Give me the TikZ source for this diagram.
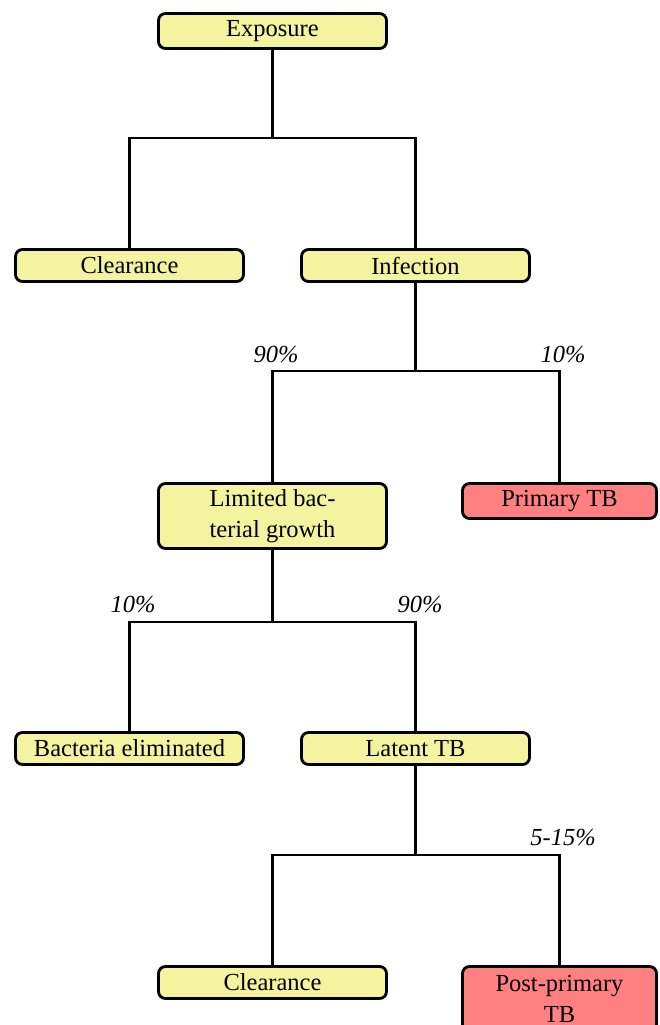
\documentclass[tikz,border=0pt]{standalone}
\usepackage{fontspec}
\setmainfont{Liberation Serif}
\definecolor{boxyellow}{RGB}{243,243,160}
\definecolor{boxred}{RGB}{255,128,128}
\begin{document}
\begin{tikzpicture}[x=1pt,y=-1pt,
 box/.style={draw=black,line width=2.8pt,rounded corners=7pt,fill=boxyellow,minimum width=228pt,inner sep=0pt,align=center,font=\fontsize{24.5}{31}\selectfont},
 redbox/.style={box,fill=boxred,minimum width=194pt},
 link/.style={line width=2.2pt},
 pct/.style={font=\itshape\fontsize{24.5}{31}\selectfont,anchor=base,inner sep=0pt}]
\useasboundingbox (0,0) rectangle (660,1025);
\node[box,minimum height=35pt] (exp) at (272.5,31) {Exposure};
\node[box,minimum height=32pt] (cl1) at (129.5,265.5) {Clearance};
\node[box,minimum height=32pt] (inf) at (415.5,265.5) {Infection};
\node[box,minimum height=65pt] (lim) at (272.5,516) {Limited bac-\\terial growth};
\node[redbox,minimum height=35pt] (pri) at (559.5,501) {Primary TB};
\node[box,minimum height=32pt] (bac) at (129.5,748.5) {Bacteria eliminated};
\node[box,minimum height=32pt] (lat) at (415.5,748.5) {Latent TB};
\node[box,minimum height=32pt] (cl2) at (272.5,982.5) {Clearance};
\node[redbox,minimum height=65pt] (post) at (559.5,999) {Post-primary\\TB};
% connectors
\coordinate (j1) at (272.5,138);
\coordinate (j2) at (415.5,371);
\coordinate (j3) at (272.5,622);
\coordinate (j4) at (415.5,855);
\draw[link] (exp.south) -- (j1);
\draw[link] (cl1.north) |- (j1) -| (inf.north);
\draw[link] (inf.south) -- (j2);
\draw[link] (lim.north) |- (j2) -| (pri.north);
\draw[link] (lim.south) -- (j3);
\draw[link] (bac.north) |- (j3) -| (lat.north);
\draw[link] (lat.south) -- (j4);
\draw[link] (cl2.north) |- (j4) -| (post.north);
% labels
\node[pct] (p1) at (276,362) {90\%};
\node[pct] (p2) at (563,362) {10\%};
\node[pct] (p3) at (133,612) {10\%};
\node[pct] (p4) at (420,612) {90\%};
\node[pct] (p5) at (563,845) {5-15\%};
\end{tikzpicture}
\end{document}
